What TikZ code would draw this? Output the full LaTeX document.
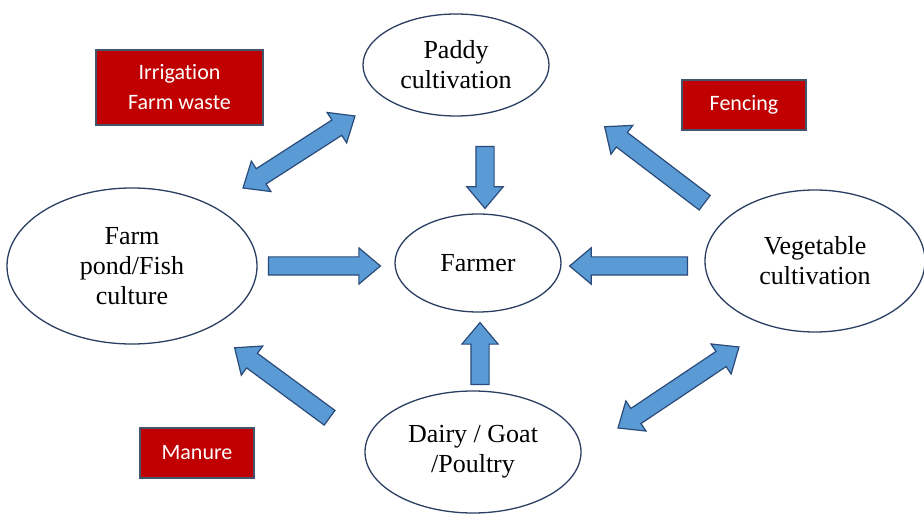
\documentclass[tikz,border=0pt]{standalone}
\usepackage{fontspec}
\setmainfont{Liberation Serif}
\newfontfamily\tagfont[Ligatures=NoCommon]{Carlito}
\usetikzlibrary{shapes.geometric,shapes.arrows,calc}
\definecolor{arrowblue}{HTML}{5B9BD5}
\definecolor{arrowline}{HTML}{2A4A78}
\definecolor{ringline}{HTML}{2B3F63}
\definecolor{tagred}{HTML}{C00000}
\definecolor{tagline}{HTML}{44546A}
\tikzset{
  unit/.style={ellipse,fill=white,draw=ringline,line width=1.3pt,inner sep=0pt,align=center,font=\fontsize{26}{30}\selectfont},
  tag/.style={rectangle,fill=tagred,draw=tagline,line width=1.2pt,text=white,align=center,font=\tagfont\fontsize{22}{30}\selectfont},
  flow/.style={single arrow,fill=arrowblue,draw=arrowline,line width=1.2pt,inner xsep=0pt,inner ysep=8.5pt,minimum width=0pt,single arrow head extend=9pt,single arrow tip angle=80},
  twoway/.style={double arrow,fill=arrowblue,draw=arrowline,line width=1.2pt,inner xsep=0pt,inner ysep=8.5pt,minimum width=0pt,double arrow head extend=9pt,double arrow tip angle=80}
}
\begin{document}
\begin{tikzpicture}[x=1pt,y=-1pt]
\useasboundingbox (0,0) rectangle (924,521);
% farming units
\node[unit,minimum width=186pt,minimum height=102pt] (paddy) at (456,65) {Paddy\\cultivation};
\node[unit,minimum width=166pt,minimum height=98pt] (farmer) at (478,263) {Farmer};
\node[unit,minimum width=250pt,minimum height=156pt] (pond) at (132,266) {Farm\\pond/Fish\\culture};
\node[unit,minimum width=220pt,minimum height=142pt] (veg) at (815,261) {Vegetable\\cultivation};
\node[unit,minimum width=216pt,minimum height=122pt] (dairy) at (473,452) {Dairy / Goat\\/Poultry};
% exchanged resources
\node[tag,minimum width=167pt,minimum height=75pt] (irrig) at (179.5,87.5) {Irrigation\\Farm waste};
\node[tag,minimum width=124pt,minimum height=50pt] (fencing) at (744,105) {Fencing};
\node[tag,minimum width=114pt,minimum height=50pt] (manure) at (197,453) {Manure};
% arrow ends
\coordinate (pd1) at (243,188); \coordinate (pd2) at (355,116);
\coordinate (pf1) at (485,141); \coordinate (pf2) at (485,203);
\coordinate (of1) at (263,266); \coordinate (of2) at (375,266);
\coordinate (vf1) at (693,266); \coordinate (vf2) at (575,266);
\coordinate (df1) at (480,390); \coordinate (df2) at (480,328);
\coordinate (vp1) at (709,206); \coordinate (vp2) at (609,130);
\coordinate (do1) at (334,421); \coordinate (do2) at (239,351);
\coordinate (dv1) at (618,428); \coordinate (dv2) at (739,347);
% block arrows
\path let \p1=($(pd2)-(pd1)$), \n1={atan2(\y1,\x1)}, \n2={veclen(\x1,\y1)} in node[twoway,rotate=\n1,minimum height=\n2] (pondpaddy) at ($(pd1)!0.5!(pd2)$) {};
\path let \p1=($(pf2)-(pf1)$), \n1={atan2(\y1,\x1)}, \n2={veclen(\x1,\y1)} in node[flow,rotate=\n1,minimum height=\n2] (paddyfarmer) at ($(pf1)!0.5!(pf2)$) {};
\path let \p1=($(of2)-(of1)$), \n1={atan2(\y1,\x1)}, \n2={veclen(\x1,\y1)} in node[flow,rotate=\n1,minimum height=\n2] (pondfarmer) at ($(of1)!0.5!(of2)$) {};
\path let \p1=($(vf2)-(vf1)$), \n1={atan2(\y1,\x1)}, \n2={veclen(\x1,\y1)} in node[flow,rotate=\n1,minimum height=\n2] (vegfarmer) at ($(vf1)!0.5!(vf2)$) {};
\path let \p1=($(df2)-(df1)$), \n1={atan2(\y1,\x1)}, \n2={veclen(\x1,\y1)} in node[flow,rotate=\n1,minimum height=\n2] (dairyfarmer) at ($(df1)!0.5!(df2)$) {};
\path let \p1=($(vp2)-(vp1)$), \n1={atan2(\y1,\x1)}, \n2={veclen(\x1,\y1)} in node[flow,rotate=\n1,minimum height=\n2] (vegpaddy) at ($(vp1)!0.5!(vp2)$) {};
\path let \p1=($(do2)-(do1)$), \n1={atan2(\y1,\x1)}, \n2={veclen(\x1,\y1)} in node[flow,rotate=\n1,minimum height=\n2] (dairypond) at ($(do1)!0.5!(do2)$) {};
\path let \p1=($(dv2)-(dv1)$), \n1={atan2(\y1,\x1)}, \n2={veclen(\x1,\y1)} in node[twoway,rotate=\n1,minimum height=\n2] (dairyveg) at ($(dv1)!0.5!(dv2)$) {};
\end{tikzpicture}
\end{document}
